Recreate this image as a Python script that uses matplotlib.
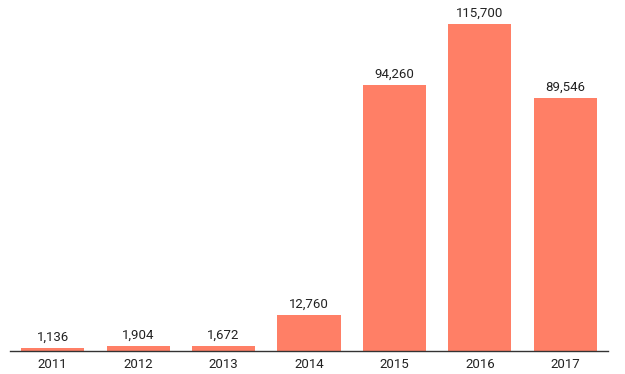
import matplotlib.pyplot as plt

years = ["2011", "2012", "2013", "2014", "2015", "2016", "2017"]
values = [1136, 1904, 1672, 12760, 94260, 115700, 89546]

plt.rcParams['font.family'] = ['Roboto', 'DejaVu Sans']

fig = plt.figure(figsize=(6.25, 3.74), dpi=100)
ax = fig.add_axes([10/625, 23/374, 598/625, 351/374])

x = range(len(years))
bars = ax.bar(x, values, width=0.74, color="#FF7F66")
for b, v in zip(bars, values):
    ax.annotate(f"{v:,}", (b.get_x() + b.get_width()/2, v), xytext=(0, 3),
                textcoords="offset points", ha="center", va="bottom",
                fontsize=9.5, color="#222222")

ax.set_xlim(-0.5, 6.5)
ax.set_ylim(0, 115700*351/327)
ax.set_xticks(list(x))
ax.set_xticklabels(years, fontsize=9.5, color="#222222")
ax.tick_params(axis="x", length=0, pad=5)
ax.set_yticks([])
for s in ["top", "right", "left"]:
    ax.spines[s].set_visible(False)
ax.spines["bottom"].set_color("#333333")
ax.spines["bottom"].set_linewidth(1)

fig.savefig("out.png", dpi=100)
